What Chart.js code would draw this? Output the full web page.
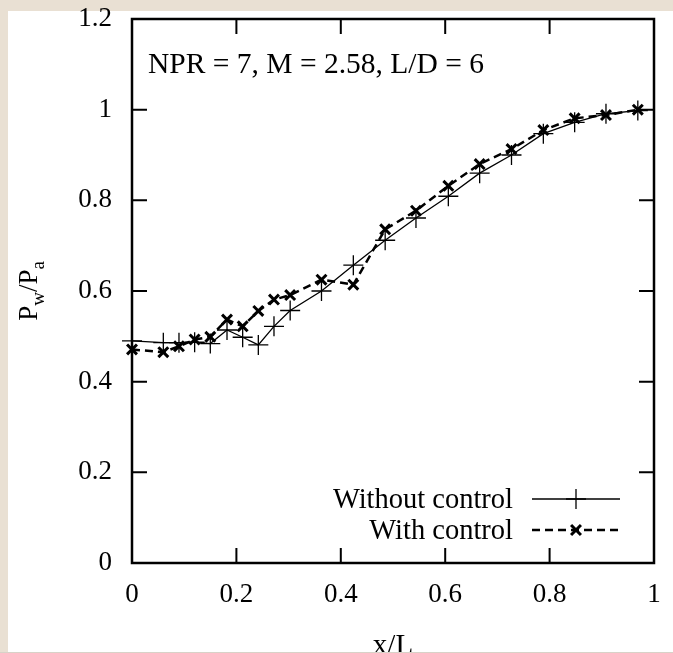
<!DOCTYPE html>
<html>
<head>
<meta charset="utf-8">
<script src="https://cdn.jsdelivr.net/npm/chart.js@4.4.1/dist/chart.umd.min.js"></script>
<style>
  html, body { margin: 0; padding: 0; background: #e9e0d3; }
  #wrap { width: 673px; height: 653px; }
</style>
</head>
<body>
<div id="wrap"><canvas id="chart" width="673" height="653"></canvas></div>
<script>
// values
const xPos = [0, 0.06, 0.09, 0.12, 0.15, 0.182, 0.212, 0.242, 0.272, 0.303, 0.363, 0.424,
              0.485, 0.544, 0.606, 0.666, 0.727, 0.788, 0.848, 0.908, 0.969];
const withoutControl = [0.490, 0.486, 0.486, 0.487, 0.484, 0.514, 0.498, 0.481, 0.522, 0.557, 0.600, 0.657,
                        0.712, 0.761, 0.809, 0.860, 0.900, 0.947, 0.972, 0.991, 0.998];
const withControl = [0.471, 0.465, 0.478, 0.493, 0.499, 0.537, 0.522, 0.556, 0.581, 0.591, 0.625, 0.614,
                     0.736, 0.777, 0.832, 0.880, 0.913, 0.955, 0.981, 0.988, 1.000];

const xTicks = [0, 0.2, 0.4, 0.6, 0.8, 1];
const yTicks = [0, 0.2, 0.4, 0.6, 0.8, 1, 1.2];
const seriesNames = ["Without control", "With control"];
const note = "NPR = 7, M = 2.58, L/D = 6";
const xTitle = "x/L";

const SERIF = "'Liberation Serif', 'DejaVu Serif', serif";

function toPoints(ys) {
  return xPos.map((x, i) => ({ x: x, y: ys[i] }));
}

function fmt(v) {
  return String(+v.toFixed(1));
}

const solidStyle = { pointStyle: "cross", radius: 10, borderWidth: 1.3, dash: [], lineWidth: 1.3 };
const dashStyle = { pointStyle: "crossRot", radius: 7, borderWidth: 3, dash: [8, 5], lineWidth: 2.5 };

const frame = {
  id: "frame",
  beforeDraw(chart) {
    const ctx = chart.ctx;
    ctx.save();
    ctx.fillStyle = "#e9e0d3";
    ctx.fillRect(0, 0, chart.width, chart.height);
    ctx.fillStyle = "#ffffff";
    ctx.fillRect(8, 11, chart.width - 8, 641);
    ctx.restore();
  },
  beforeDatasetsDraw(chart) {
    const { ctx, chartArea: a, scales: { x, y } } = chart;
    ctx.save();
    ctx.strokeStyle = "#000";
    ctx.lineWidth = 2;
    ctx.beginPath();
    xTicks.forEach(v => {
      const px = x.getPixelForValue(v);
      ctx.moveTo(px, a.bottom); ctx.lineTo(px, a.bottom - 15);
      ctx.moveTo(px, a.top); ctx.lineTo(px, a.top + 15);
    });
    yTicks.forEach(v => {
      const py = y.getPixelForValue(v);
      ctx.moveTo(a.left, py); ctx.lineTo(a.left + 15, py);
      ctx.moveTo(a.right, py); ctx.lineTo(a.right - 15, py);
    });
    ctx.stroke();
    ctx.lineWidth = 2.5;
    ctx.strokeRect(a.left, a.top, a.right - a.left, a.bottom - a.top);
    ctx.restore();
  },
  afterDraw(chart) {
    const { ctx, chartArea: a } = chart;
    ctx.save();
    ctx.fillStyle = "#000";
    ctx.strokeStyle = "#000";

    // annotation
    ctx.font = "29.5px " + SERIF;
    ctx.textAlign = "left";
    ctx.textBaseline = "alphabetic";
    ctx.fillText(note, a.left + 16, a.top + 54);

    // legend
    const styles = [solidStyle, dashStyle];
    seriesNames.forEach((name, i) => {
      const ly = a.bottom - 64 + i * 31;
      const st = styles[i];
      ctx.font = "28.5px " + SERIF;
      ctx.textAlign = "right";
      ctx.textBaseline = "alphabetic";
      ctx.fillText(name, a.right - 141, ly + 9);
      ctx.lineWidth = st.lineWidth;
      ctx.setLineDash(st.dash);
      ctx.beginPath();
      ctx.moveTo(a.right - 122, ly);
      ctx.lineTo(a.right - 34, ly);
      ctx.stroke();
      ctx.setLineDash([]);
      ctx.lineWidth = st.borderWidth;
      Chart.helpers.drawPoint(ctx, { pointStyle: st.pointStyle, radius: st.radius, rotation: 0, borderWidth: st.borderWidth }, a.right - 78, ly);
    });

    // x title, cut by the lower edge of the panel
    ctx.font = "29px " + SERIF;
    ctx.textAlign = "center";
    ctx.fillText(xTitle, (a.left + a.right) / 2, 654);
    ctx.fillStyle = "#d8d2c8";
    ctx.fillRect(0, 652, chart.width, 1);
    ctx.fillStyle = "#000";

    // y title with subscripts
    const big = "27px " + SERIF, small = "19px " + SERIF;
    const parts = [["P", big, 0], ["w", small, 7], ["/P", big, 0], ["a", small, 7]];
    let total = 0;
    parts.forEach(p => { ctx.font = p[1]; total += ctx.measureText(p[0]).width; });
    ctx.translate(37, (a.top + a.bottom) / 2);
    ctx.rotate(-Math.PI / 2);
    ctx.textAlign = "left";
    let cx = -total / 2;
    parts.forEach(p => {
      ctx.font = p[1];
      ctx.fillText(p[0], cx, p[2]);
      cx += ctx.measureText(p[0]).width;
    });
    ctx.restore();
  }
};

new Chart(document.getElementById("chart"), {
  type: "scatter",
  data: {
    datasets: [
      {
        label: seriesNames[0],
        data: toPoints(withoutControl),
        showLine: true,
        borderColor: "#000",
        borderWidth: solidStyle.lineWidth,
        pointStyle: solidStyle.pointStyle,
        pointRadius: solidStyle.radius,
        pointBorderWidth: solidStyle.borderWidth,
        pointBorderColor: "#000",
        clip: false
      },
      {
        label: seriesNames[1],
        data: toPoints(withControl),
        showLine: true,
        borderColor: "#000",
        borderWidth: dashStyle.lineWidth,
        borderDash: dashStyle.dash,
        pointStyle: dashStyle.pointStyle,
        pointRadius: dashStyle.radius,
        pointBorderWidth: dashStyle.borderWidth,
        pointBorderColor: "#000",
        clip: false
      }
    ]
  },
  options: {
    responsive: false,
    animation: false,
    layout: { padding: { left: 0, right: 19, top: 19, bottom: 0 } },
    plugins: { legend: { display: false }, tooltip: { enabled: false } },
    scales: {
      x: {
        type: "linear",
        min: 0, max: 1,
        afterBuildTicks: s => { s.ticks = xTicks.map(v => ({ value: v })); },
        afterFit: s => { s.height = 90; s.paddingLeft = 0; s.paddingRight = 0; },
        grid: { display: false },
        border: { display: false },
        ticks: { color: "#000", font: { family: SERIF, size: 27 }, padding: 8, callback: v => fmt(v), maxRotation: 0 }
      },
      y: {
        type: "linear",
        min: 0, max: 1.2,
        afterBuildTicks: s => { s.ticks = yTicks.map(v => ({ value: v })); },
        afterFit: s => { s.width = 132; s.paddingTop = 0; s.paddingBottom = 0; },
        grid: { display: false },
        border: { display: false },
        ticks: { color: "#000", font: { family: SERIF, size: 27 }, padding: 12, callback: v => fmt(v) }
      }
    }
  },
  plugins: [frame]
});
</script>
</body>
</html>
